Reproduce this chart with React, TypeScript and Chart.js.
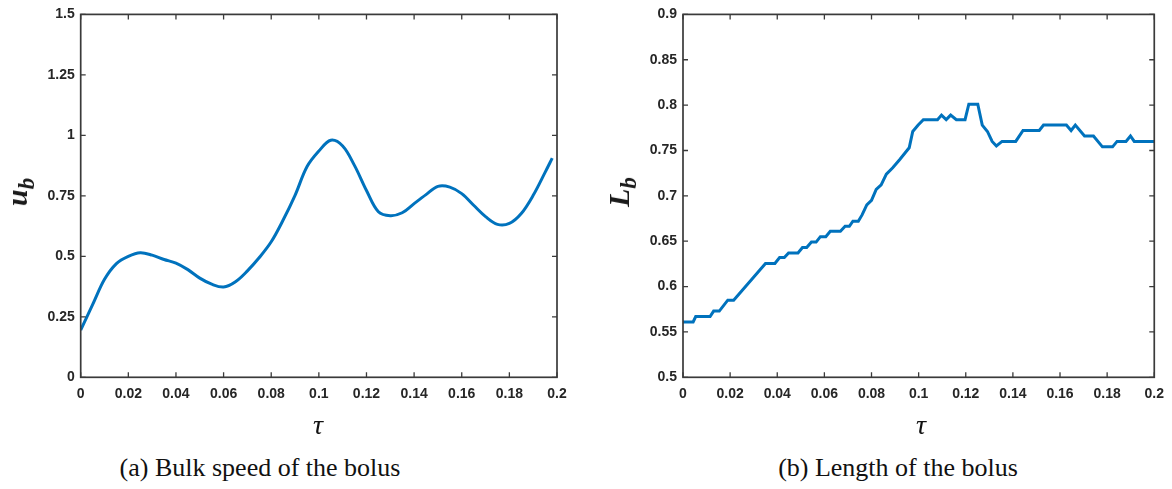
import React, { useEffect, useRef } from "react";
import { Chart, registerables } from "chart.js";

Chart.register(...registerables);

// ---------- data ----------
const tauU = [0, 0.005, 0.01, 0.015, 0.02, 0.025, 0.03, 0.035, 0.04, 0.045, 0.05, 0.055, 0.06, 0.065, 0.07, 0.075, 0.08, 0.085, 0.09, 0.095, 0.1, 0.105, 0.11, 0.115, 0.12, 0.125, 0.13, 0.135, 0.14, 0.145, 0.15, 0.155, 0.16, 0.165, 0.17, 0.175, 0.18, 0.185, 0.19, 0.195, 0.198];
const bulkSpeed = [0.195, 0.3, 0.405, 0.47, 0.5, 0.515, 0.505, 0.487, 0.472, 0.445, 0.41, 0.385, 0.373, 0.395, 0.44, 0.495, 0.56, 0.65, 0.752, 0.87, 0.935, 0.98, 0.956, 0.875, 0.772, 0.684, 0.668, 0.68, 0.718, 0.755, 0.789, 0.786, 0.759, 0.711, 0.664, 0.632, 0.636, 0.677, 0.752, 0.847, 0.906];

const tauL = [0, 0.0043, 0.0054, 0.0115, 0.013, 0.0154, 0.019, 0.0215, 0.035, 0.039, 0.041, 0.043, 0.0448, 0.0488, 0.0507, 0.0525, 0.0545, 0.0565, 0.0583, 0.0606, 0.0625, 0.0668, 0.0688, 0.0706, 0.0721, 0.0744, 0.076, 0.078, 0.08, 0.082, 0.0841, 0.0863, 0.089, 0.092, 0.096, 0.0975, 0.0998, 0.102, 0.108, 0.1097, 0.1117, 0.1136, 0.116, 0.1197, 0.1213, 0.1251, 0.127, 0.1292, 0.1312, 0.133, 0.1354, 0.1412, 0.1443, 0.1512, 0.153, 0.1627, 0.1647, 0.1665, 0.1704, 0.1742, 0.178, 0.1823, 0.1842, 0.188, 0.1899, 0.1915, 0.2];
const bolusLength = [0.561, 0.561, 0.567, 0.567, 0.573, 0.573, 0.585, 0.585, 0.6255, 0.6255, 0.632, 0.632, 0.637, 0.637, 0.643, 0.643, 0.649, 0.649, 0.655, 0.655, 0.661, 0.661, 0.6665, 0.6665, 0.672, 0.672, 0.679, 0.69, 0.695, 0.707, 0.712, 0.724, 0.731, 0.74, 0.753, 0.771, 0.778, 0.784, 0.784, 0.789, 0.784, 0.789, 0.784, 0.784, 0.801, 0.801, 0.778, 0.771, 0.76, 0.755, 0.76, 0.76, 0.772, 0.772, 0.778, 0.778, 0.772, 0.778, 0.766, 0.766, 0.754, 0.754, 0.76, 0.76, 0.766, 0.76, 0.76];

const xTickValues = [0, 0.02, 0.04, 0.06, 0.08, 0.1, 0.12, 0.14, 0.16, 0.18, 0.2];
const xTickLabels = ["0", "0.02", "0.04", "0.06", "0.08", "0.1", "0.12", "0.14", "0.16", "0.18", "0.2"];
const yTickValuesU = [0, 0.25, 0.5, 0.75, 1, 1.25, 1.5];
const yTickLabelsU = ["0", "0.25", "0.5", "0.75", "1", "1.25", "1.5"];
const yTickValuesL = [0.5, 0.55, 0.6, 0.65, 0.7, 0.75, 0.8, 0.85, 0.9];
const yTickLabelsL = ["0.5", "0.55", "0.6", "0.65", "0.7", "0.75", "0.8", "0.85", "0.9"];

const AXIS_COLOR = "#3a3a3a";
const LINE_COLOR = "#0072BD";

const boxPlugin = {
  id: "matlabBox",
  afterDraw(chart: any) {
    const { ctx, chartArea: a, scales } = chart;
    ctx.save();
    ctx.strokeStyle = AXIS_COLOR;
    ctx.lineWidth = 1.7;
    ctx.strokeRect(a.left, a.top, a.right - a.left, a.bottom - a.top);
    ctx.lineWidth = 1.3;
    const len = 5;
    ctx.beginPath();
    scales.x.ticks.forEach((t: any) => {
      const p = scales.x.getPixelForValue(t.value);
      ctx.moveTo(p, a.bottom);
      ctx.lineTo(p, a.bottom - len);
      ctx.moveTo(p, a.top);
      ctx.lineTo(p, a.top + len);
    });
    scales.y.ticks.forEach((t: any) => {
      const p = scales.y.getPixelForValue(t.value);
      ctx.moveTo(a.left, p);
      ctx.lineTo(a.left + len, p);
      ctx.moveTo(a.right, p);
      ctx.lineTo(a.right - len, p);
    });
    ctx.stroke();
    ctx.restore();
  },
};

function makeConfig(
  xs: number[],
  ys: number[],
  yMin: number,
  yMax: number,
  yTicks: number[],
  yLabels: string[],
  yWidth: number,
  padRight: number,
  tension: number
) {
  const tickFont = { family: "'Liberation Sans', Arial, sans-serif", size: 14, weight: "bold" as const };
  return {
    type: "line" as const,
    data: {
      datasets: [
        {
          data: xs.map((x, i) => ({ x, y: ys[i] })),
          borderColor: LINE_COLOR,
          borderWidth: 3,
          pointRadius: 0,
          tension,
          fill: false,
        },
      ],
    },
    options: {
      animation: false as const,
      responsive: false,
      maintainAspectRatio: false,
      layout: { padding: { top: 11.5, right: padRight, left: 0, bottom: 0 } },
      plugins: { legend: { display: false }, tooltip: { enabled: false } },
      scales: {
        x: {
          type: "linear" as const,
          min: 0,
          max: 0.2,
          grid: { display: false, drawTicks: false },
          border: { display: false },
          afterBuildTicks: (s: any) => {
            s.ticks = xTickValues.map((v) => ({ value: v }));
          },
          afterFit: (s: any) => {
            s.height = 32.7;
          },
          ticks: {
            padding: 8,
            color: "#262626",
            font: tickFont,
            maxRotation: 0,
            autoSkip: false,
            callback: (_v: any, i: number) => xTickLabels[i],
          },
        },
        y: {
          type: "linear" as const,
          min: yMin,
          max: yMax,
          grid: { display: false, drawTicks: false },
          border: { display: false },
          afterBuildTicks: (s: any) => {
            s.ticks = yTicks.map((v) => ({ value: v }));
          },
          afterFit: (s: any) => {
            s.width = yWidth;
          },
          ticks: {
            padding: 6,
            color: "#262626",
            font: tickFont,
            autoSkip: false,
            callback: (_v: any, i: number) => yLabels[i],
          },
        },
      },
    },
    plugins: [boxPlugin],
  };
}

function Panel(props: { left: number; width: number; config: any }) {
  const ref = useRef<HTMLCanvasElement | null>(null);
  useEffect(() => {
    if (!ref.current) return;
    const chart = new Chart(ref.current, props.config);
    return () => chart.destroy();
  }, []);
  return (
    <canvas
      ref={ref}
      width={props.width}
      height={410}
      style={{ position: "absolute", left: props.left, top: 0, width: props.width, height: 410 }}
    />
  );
}

const serif = "'Liberation Serif', 'Times New Roman', serif";

function AxisTitleY(props: { x: number; y: number; main: string; sub: string }) {
  return (
    <div
      style={{
        position: "absolute",
        left: props.x,
        top: props.y,
        transform: "translate(-50%, -50%) rotate(-90deg)",
        fontFamily: serif,
        fontStyle: "italic",
        fontWeight: "bold",
        fontSize: 30,
        color: "#1a1a1a",
        whiteSpace: "nowrap",
        lineHeight: 1,
      }}
    >
      {props.main}
      <sub style={{ fontSize: 23 }}>{props.sub}</sub>
    </div>
  );
}

function Centered(props: { x: number; y: number; size: number; italic?: boolean; text: string }) {
  return (
    <div
      style={{
        position: "absolute",
        left: props.x,
        top: props.y,
        transform: "translate(-50%, -50%)",
        fontFamily: serif,
        fontStyle: props.italic ? "italic" : "normal",
        fontSize: props.size,
        color: "#111",
        whiteSpace: "nowrap",
        lineHeight: 1,
      }}
    >
      {props.text}
    </div>
  );
}

export default function App() {
  const cfgU = makeConfig(tauU, bulkSpeed, 0, 1.5, yTickValuesU, yTickLabelsU, 80.7, 23, 0.35);
  const cfgL = makeConfig(tauL, bolusLength, 0.5, 0.9, yTickValuesL, yTickLabelsL, 83, 12.7, 0);
  return (
    <div style={{ position: "fixed", left: 0, top: 0, width: 1172, height: 489, background: "#fff", overflow: "hidden" }}>
      <Panel left={0} width={580} config={cfgU} />
      <Panel left={600} width={572} config={cfgL} />
      <AxisTitleY x={20} y={192} main="u" sub="b" />
      <AxisTitleY x={622} y={192} main="L" sub="b" />
      <Centered x={318} y={425} size={28} italic text="τ" />
      <Centered x={921} y={425} size={28} italic text="τ" />
      <Centered x={260} y={468} size={26} text="(a) Bulk speed of the bolus" />
      <Centered x={898} y={468} size={26} text="(b) Length of the bolus" />
    </div>
  );
}
